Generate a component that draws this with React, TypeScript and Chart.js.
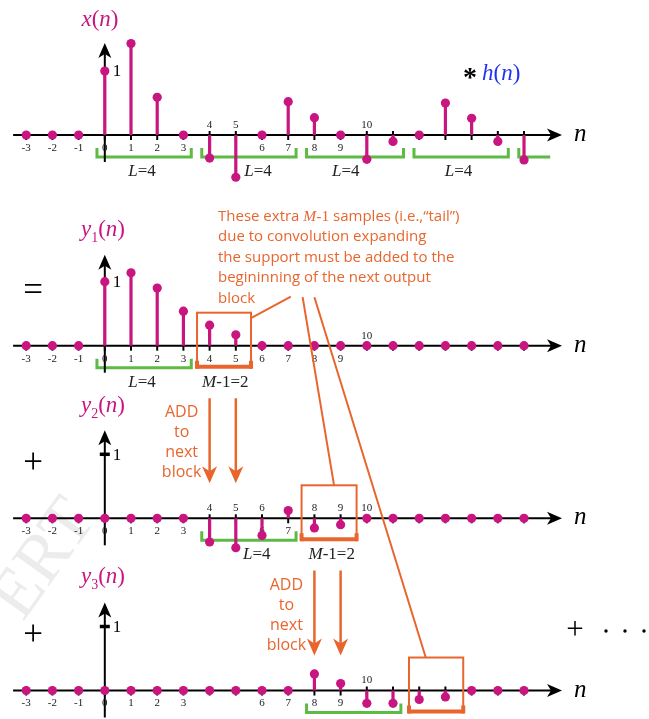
import React, { useEffect, useRef } from "react";
import { Chart, registerables } from "chart.js";

Chart.register(...registerables);

// ---------- data ----------
const nValues = [-3, -2, -1, 0, 1, 2, 3, 4, 5, 6, 7, 8, 9, 10, 11, 12, 13, 14, 15, 16];
const xSignal = [0, 0, 0, 1.0, 1.43, 0.59, 0, -0.36, -0.66, 0, 0.52, 0.27, 0, -0.38, -0.1, 0, 0.5, 0.26, -0.1, -0.39];
const y1Signal = [0, 0, 0, 1.0, 1.14, 0.9, 0.54, 0.32, 0.17, 0, 0, 0, 0, 0, 0, 0, 0, 0, 0, 0];
const y2Signal = [0, 0, 0, 0, 0, 0, 0, -0.37, -0.46, -0.27, 0.12, -0.15, -0.1, 0, 0, 0, 0, 0, 0, 0];
const y3Signal = [0, 0, 0, 0, 0, 0, 0, 0, 0, 0, 0, 0.26, 0.11, -0.2, -0.2, -0.14, -0.1, 0, 0, 0];

const row1LabelsBelow = [-3, -2, -1, 0, 1, 2, 3, 6, 7, 8, 9];
const row1LabelsAbove = [4, 5, 10];
const row2LabelsBelow = [-3, -2, -1, 0, 1, 2, 3, 4, 5, 6, 7, 8, 9];
const row2LabelsAbove = [10];
const row3LabelsBelow = [-3, -2, -1, 0, 1, 2, 3, 6, 7];
const row3LabelsAbove = [4, 5, 6, 8, 9, 10];
const row4LabelsBelow = [-3, -2, -1, 0, 1, 2, 3, 6, 7, 8, 9];
const row4LabelsAbove = [10];

const row1Blocks = [[-0.3, 3.3], [3.7, 7.3], [7.7, 11.4], [11.8, 15.4], [15.8, 17.0]];
const row2Blocks = [[-0.3, 3.3]];
const row3Blocks = [[3.7, 7.3]];
const row4Blocks = [[7.7, 11.3]];
const row1BlockLabels = [1.42, 5.85, 9.2, 13.5];
const row2BlockLabels = [1.42];
const row3BlockLabels = [5.8];
const row4BlockLabels: number[] = [];

const tailBoxes = [null, [3.52, 5.58], [7.51, 9.61], [11.61, 13.68]];
const tailLabels = [null, 4.6, 8.66, null];
const addArrows = [null, null, [4, 5], [8, 9]];

const rowBase = [9.125, 5.833, 3.136, 0.445];

const MAGENTA = "#C8157F";
const ORANGE = "#E8662E";
const GREEN = "#5DBB45";
const BLUE = "#2233F0";
const SERIF = "'Liberation Serif', 'DejaVu Serif', serif";
const SANS = "'Open Sans', 'Noto Sans', sans-serif";

type Seg = { t: string; f: string; c: string; dy?: number };

function drawSegs(ctx: CanvasRenderingContext2D, segs: Seg[], x: number, y: number, align: "left" | "center") {
  let w = 0;
  for (const s of segs) {
    ctx.font = s.f;
    w += ctx.measureText(s.t).width;
  }
  let cx = align === "center" ? x - w / 2 : x;
  ctx.textAlign = "left";
  ctx.textBaseline = "alphabetic";
  for (const s of segs) {
    ctx.font = s.f;
    ctx.fillStyle = s.c;
    ctx.fillText(s.t, cx, y + (s.dy || 0));
    cx += ctx.measureText(s.t).width;
  }
}

function arrowHead(ctx: CanvasRenderingContext2D, tx: number, ty: number, dx: number, dy: number, len: number, half: number, notch: number, color: string) {
  const px = -dy, py = dx;
  ctx.beginPath();
  ctx.moveTo(tx, ty);
  ctx.lineTo(tx - dx * len + px * half, ty - dy * len + py * half);
  ctx.lineTo(tx - dx * (len - notch), ty - dy * (len - notch));
  ctx.lineTo(tx - dx * len - px * half, ty - dy * len - py * half);
  ctx.closePath();
  ctx.fillStyle = color;
  ctx.fill();
}

const signals = [xSignal, y1Signal, y2Signal, y3Signal];
const labelsBelow = [row1LabelsBelow, row2LabelsBelow, row3LabelsBelow, row4LabelsBelow];
const labelsAbove = [row1LabelsAbove, row2LabelsAbove, row3LabelsAbove, row4LabelsAbove];
const blocks = [row1Blocks, row2Blocks, row3Blocks, row4Blocks];
const blockLabels = [row1BlockLabels, row2BlockLabels, row3BlockLabels, row4BlockLabels];
const axisTips = [92, 91, 88, 88];

const decor = {
  id: "decor",
  beforeDatasetsDraw(chart: any) {
    const ctx: CanvasRenderingContext2D = chart.ctx;
    const X = (n: number) => chart.scales.x.getPixelForValue(n);
    const Y = (v: number) => chart.scales.y.getPixelForValue(v);
    ctx.save();

    // watermark
    ctx.save();
    ctx.translate(45, 560);
    ctx.rotate(-0.95);
    ctx.font = `70px ${SERIF}`;
    ctx.fillStyle = "rgba(170,170,170,0.22)";
    ctx.textAlign = "center";
    ctx.textBaseline = "middle";
    ctx.fillText("ERT", 0, 0);
    ctx.restore();

    for (let r = 0; r < 4; r++) {
      const ay = Y(rowBase[r]);
      const x0 = X(0);
      // green blocks
      ctx.strokeStyle = GREEN;
      ctx.lineWidth = 3;
      ctx.lineJoin = "miter";
      blocks[r].forEach(([a, b], i) => {
        ctx.beginPath();
        ctx.moveTo(X(a), ay + 13);
        ctx.lineTo(X(a), ay + 22);
        ctx.lineTo(X(b), ay + 22);
        if (!(r === 0 && i === blocks[r].length - 1)) ctx.lineTo(X(b), ay + 13);
        ctx.stroke();
      });
      // horizontal axis
      ctx.strokeStyle = "#000";
      ctx.lineWidth = 2;
      ctx.beginPath();
      ctx.moveTo(X(-3.5), ay);
      ctx.lineTo(X(17.45) - 8, ay);
      ctx.stroke();
      arrowHead(ctx, X(17.45), ay, 1, 0, 15, 6.5, 4, "#000");
      // vertical axis
      const tip = ay - axisTips[r];
      ctx.beginPath();
      ctx.moveTo(x0, ay + 27);
      ctx.lineTo(x0, tip + 8);
      ctx.stroke();
      arrowHead(ctx, x0, tip, 0, -1, 15, 6.5, 4, "#000");
      // ticks
      ctx.lineWidth = 2;
      nValues.forEach((n) => {
        ctx.beginPath();
        ctx.moveTo(X(n), ay - 4);
        ctx.lineTo(X(n), ay + 5);
        ctx.stroke();
      });
      // unit tick
      if (r >= 2) {
        ctx.lineWidth = 3.5;
        ctx.beginPath();
        ctx.moveTo(x0 - 5, Y(rowBase[r] + 1));
        ctx.lineTo(x0 + 5, Y(rowBase[r] + 1));
        ctx.stroke();
      }
      ctx.fillStyle = "#000";
      ctx.font = `17px ${SERIF}`;
      ctx.textAlign = "left";
      ctx.textBaseline = "middle";
      ctx.fillText("1", x0 + 8, Y(rowBase[r] + 1) + 1);

      // tick labels
      ctx.font = `11px ${SERIF}`;
      ctx.fillStyle = "#222";
      ctx.textAlign = "center";
      ctx.textBaseline = "middle";
      labelsBelow[r].forEach((n) => ctx.fillText(String(n), X(n), ay + 13));
      labelsAbove[r].forEach((n) => ctx.fillText(String(n), X(n), ay - 10));

      // block labels
      blockLabels[r].forEach((n) =>
        drawSegs(ctx, [
          { t: "L", f: `italic 17px ${SERIF}`, c: "#222" },
          { t: "=4", f: `17px ${SERIF}`, c: "#222" },
        ], X(n), ay + 41, "center")
      );
      const tl = tailLabels[r];
      if (tl !== null) {
        drawSegs(ctx, [
          { t: "M", f: `italic 17px ${SERIF}`, c: "#222" },
          { t: "-1=2", f: `17px ${SERIF}`, c: "#222" },
        ], X(tl as number), ay + 41, "center");
      }

      // tail boxes
      const tb = tailBoxes[r];
      if (tb) {
        const [a, b] = tb as number[];
        ctx.strokeStyle = ORANGE;
        ctx.lineWidth = 2;
        ctx.strokeRect(X(a), ay - 33, X(b) - X(a), 54);
        ctx.lineWidth = 4;
        ctx.beginPath();
        ctx.moveTo(X(a) - 1, ay + 21);
        ctx.lineTo(X(b) + 1, ay + 21);
        ctx.stroke();
        ctx.beginPath();
        ctx.moveTo(X(a), ay + 15);
        ctx.lineTo(X(a), ay + 23);
        ctx.moveTo(X(b), ay + 15);
        ctx.lineTo(X(b), ay + 23);
        ctx.stroke();
      }

      // ADD arrows
      const aa = addArrows[r];
      if (aa) {
        const cxText = X((aa as number[])[0]) - 28;
        ["ADD", "to", "next", "block"].forEach((w, i) => {
          ctx.font = `16px ${SANS}`;
          ctx.fillStyle = ORANGE;
          ctx.textAlign = "center";
          ctx.textBaseline = "alphabetic";
          ctx.fillText(w, cxText, ay - 101 + i * 20);
        });
        (aa as number[]).forEach((n) => {
          ctx.strokeStyle = ORANGE;
          ctx.lineWidth = 2.5;
          ctx.beginPath();
          ctx.moveTo(X(n), ay - 120);
          ctx.lineTo(X(n), ay - 45);
          ctx.stroke();
          arrowHead(ctx, X(n), ay - 35, 0, 1, 17, 7.5, 5, ORANGE);
        });
      }
    }

    // titles
    const tf = `23px ${SERIF}`;
    const tfi = `italic 23px ${SERIF}`;
    drawSegs(ctx, [
      { t: "x", f: tfi, c: MAGENTA }, { t: "(", f: tf, c: MAGENTA }, { t: "n", f: tfi, c: MAGENTA }, { t: ")", f: tf, c: MAGENTA },
    ], 100, Y(rowBase[0]) - 109, "center");
    const subs = ["1", "2", "3"];
    const tOff = [-110, -106, -107.5];
    for (let k = 0; k < 3; k++) {
      drawSegs(ctx, [
        { t: "y", f: tfi, c: MAGENTA },
        { t: subs[k], f: `14px ${SERIF}`, c: MAGENTA, dy: 6 },
        { t: "(", f: tf, c: MAGENTA }, { t: "n", f: tfi, c: MAGENTA }, { t: ")", f: tf, c: MAGENTA },
      ], 103, Y(rowBase[k + 1]) + tOff[k], "center");
    }
    // * h(n)
    ctx.fillStyle = "#000";
    ctx.font = `bold 28px ${SERIF}`;
    ctx.textAlign = "center";
    ctx.textBaseline = "middle";
    ctx.fillText("*", 470, 79);
    drawSegs(ctx, [
      { t: "h", f: tfi, c: BLUE }, { t: "(", f: tf, c: BLUE }, { t: "n", f: tfi, c: BLUE }, { t: ")", f: tf, c: BLUE },
    ], 482, 80, "left");

    // n axis labels
    for (let r = 0; r < 4; r++) {
      const ay = Y(rowBase[r]);
      ctx.font = `italic 25px ${SERIF}`;
      ctx.fillStyle = "#000";
      ctx.textAlign = "left";
      ctx.textBaseline = "alphabetic";
      ctx.fillText("n", 574, ay + 6);
    }

    // operators
    ctx.fillStyle = "#000";
    ctx.font = `35px ${SERIF}`;
    ctx.textAlign = "center";
    ctx.textBaseline = "middle";
    ctx.fillText("=", 33, 292);
    ctx.fillText("+", 33, 464);
    ctx.fillText("+", 33, 636);
    ctx.font = `31px ${SERIF}`;
    ctx.fillText("+", 575, 631);
    [606, 625, 644].forEach((dx) => {
      ctx.beginPath();
      ctx.arc(dx, 631, 1.7, 0, Math.PI * 2);
      ctx.fill();
    });

    // orange paragraph
    const ay2 = Y(rowBase[1]);
    const pf = `15px ${SANS}`;
    const lines: Seg[][] = [
      [
        { t: "These extra ", f: pf, c: ORANGE },
        { t: "M", f: `italic 15.5px ${SERIF}`, c: ORANGE },
        { t: "-1", f: `15.5px ${SERIF}`, c: ORANGE },
        { t: " samples (i.e.,\u201Ctail\u201D)", f: pf, c: ORANGE },
      ],
      [{ t: "due to convolution expanding", f: pf, c: ORANGE }],
      [{ t: "the support must be added to the", f: pf, c: ORANGE }],
      [{ t: "begininning of the next output", f: pf, c: ORANGE }],
      [{ t: "block", f: pf, c: ORANGE }],
    ];
    lines.forEach((segs, i) => drawSegs(ctx, segs, 218, ay2 - 125 + i * 20.6, "left"));

    ctx.restore();
  },
  afterDatasetsDraw(chart: any) {
    const ctx: CanvasRenderingContext2D = chart.ctx;
    const X = (n: number) => chart.scales.x.getPixelForValue(n);
    const Y = (v: number) => chart.scales.y.getPixelForValue(v);
    const ay2 = Y(rowBase[1]);
    const ay3 = Y(rowBase[2]);
    const ay4 = Y(rowBase[3]);
    ctx.save();
    ctx.strokeStyle = ORANGE;
    ctx.lineWidth = 2;
    ctx.beginPath();
    ctx.moveTo(X(7.1), ay2 - 49);
    ctx.lineTo(X((tailBoxes[1] as number[])[1]), ay2 - 27.5);
    ctx.moveTo(X(7.55), ay2 - 48.5);
    ctx.lineTo(X(8.75), ay3 - 33);
    ctx.moveTo(X(8.0), ay2 - 48.5);
    ctx.lineTo(X(12.25), ay4 - 33);
    ctx.stroke();
    ctx.restore();
  },
};

export default function App() {
  const ref = useRef<HTMLCanvasElement | null>(null);
  useEffect(() => {
    document.body.style.margin = "0";
    if (!ref.current) return;
    const datasets: any[] = [];
    signals.forEach((vals, r) => {
      const base = rowBase[r];
      const stems: any[] = [];
      nValues.forEach((n, i) => {
        if (vals[i] !== 0) {
          stems.push({ x: n, y: base }, { x: n, y: base + vals[i] }, { x: n, y: null });
        }
      });
      datasets.push({
        type: "line",
        data: stems,
        borderColor: MAGENTA,
        borderWidth: 3.2,
        pointRadius: 0,
        spanGaps: false,
        clip: false,
        order: 2,
      });
      datasets.push({
        type: "scatter",
        data: nValues.map((n, i) => ({ x: n, y: base + vals[i] })),
        backgroundColor: MAGENTA,
        borderWidth: 0,
        pointRadius: 4.6,
        pointHoverRadius: 4.6,
        clip: false,
        order: 1,
      });
    });
    const chart = new Chart(ref.current, {
      type: "scatter",
      data: { datasets },
      options: {
        animation: false,
        responsive: false,
        devicePixelRatio: 1,
        events: [],
        layout: { padding: 0, autoPadding: false },
        scales: {
          x: { type: "linear", min: -4, max: 20.77, display: false },
          y: { type: "linear", min: 0, max: 719 / 64, display: false },
        },
        plugins: { legend: { display: false }, tooltip: { enabled: false } },
      },
      plugins: [decor],
    });
    return () => chart.destroy();
  }, []);
  return (
    <div style={{ width: 649, height: 719, background: "#fff" }}>
      <canvas ref={ref} width={649} height={719} />
    </div>
  );
}
